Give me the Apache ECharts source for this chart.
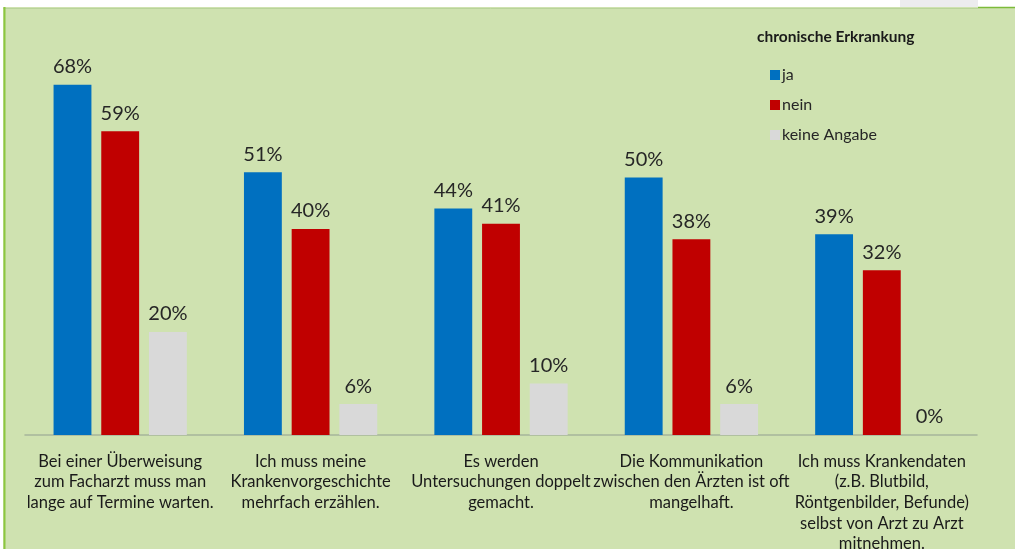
<!DOCTYPE html>
<html><head><meta charset="utf-8">
<script src="https://cdn.jsdelivr.net/npm/echarts@6/dist/echarts.min.js"></script>
<style>html,body{margin:0;padding:0;background:#fff}#c{width:1015px;height:549px}</style>
</head><body><div id="c"></div>
<script>
const categories = [
  "Bei einer Überweisung\nzum Facharzt muss man\nlange auf Termine warten.",
  "Ich muss meine\nKrankenvorgeschichte\nmehrfach erzählen.",
  "Es werden\nUntersuchungen doppelt\ngemacht.",
  "Die Kommunikation\nzwischen den Ärzten ist oft\nmangelhaft.",
  "Ich muss Krankendaten\n(z.B. Blutbild,\nRöntgenbilder, Befunde)\nselbst von Arzt zu Arzt\nmitnehmen."
];
const seriesNames = ["ja", "nein", "keine Angabe"];
const ja = [68, 51, 44, 50, 39];
const nein = [59, 40, 41, 38, 32];
const keineAngabe = [20, 6, 10, 6, 0];
const legendTitle = "chronische Erkrankung";

const FONT = "Lato, 'Open Sans', sans-serif";
const colors = ["#0070C0", "#C00000", "#D9D9D9"];
const chart = echarts.init(document.getElementById('c'), null, {renderer: 'canvas'});
const mk = (name, data, i) => ({
  name, type: 'bar', data,
  barGap: '26%', barCategoryGap: '30%',
  itemStyle: {color: colors[i]},
  label: {show: true, position: 'top', distance: 8, formatter: '{c}%', fontFamily: FONT, fontSize: 20, color: '#262626'}
});
chart.setOption({
  backgroundColor: '#ffffff',
  animation: false,
  textStyle: {fontFamily: FONT},
  graphic: [
    {type: 'rect', shape: {x: 3, y: 7, width: 1012, height: 542}, style: {fill: '#cfe2b0'}, z: -10},
    {type: 'rect', shape: {x: 900, y: 0, width: 78, height: 7}, style: {fill: '#ececee'}, z: -10},
    {type: 'line', shape: {x1: 978, y1: 7.5, x2: 1015, y2: 7.5}, style: {stroke: '#7dbb3a', lineWidth: 1.5}, z: -9},
    {type: 'line', shape: {x1: 3, y1: 8.5, x2: 978, y2: 8.5}, style: {stroke: '#b9d49a', lineWidth: 1}, z: -9},
    {type: 'line', shape: {x1: 4.5, y1: 7, x2: 4.5, y2: 549}, style: {stroke: '#8cc63f', lineWidth: 2}, z: -9},
    {type: 'text', left: 757, top: 29, style: {text: legendTitle, font: "bold 15.5px " + FONT, fill: '#1a1a1a'}}
  ],
  legend: {
    orient: 'vertical', left: 765, top: 62, itemWidth: 10, itemHeight: 10, itemGap: 14,
    icon: 'rect', data: seriesNames,
    textStyle: {fontFamily: FONT, fontSize: 16, lineHeight: 16, color: '#262626', padding: [0, 0, 0, -3]}
  },
  grid: {left: 25, right: 38, top: 23, bottom: 114, containLabel: false, outerBoundsMode: 'none'},
  xAxis: {
    type: 'category', data: categories,
    axisLine: {lineStyle: {color: '#a6b59a', width: 1.5}},
    axisTick: {show: false},
    axisLabel: {interval: 0, margin: 16, fontFamily: FONT, fontSize: 16.5, lineHeight: 20.7, color: '#1a1a1a', align: 'center', verticalAlign: 'top'}
  },
  yAxis: {type: 'value', min: 0, max: 80, show: false, splitLine: {show: false}},
  series: [mk(seriesNames[0], ja, 0), mk(seriesNames[1], nein, 1), mk(seriesNames[2], keineAngabe, 2)]
});
</script></body></html>
